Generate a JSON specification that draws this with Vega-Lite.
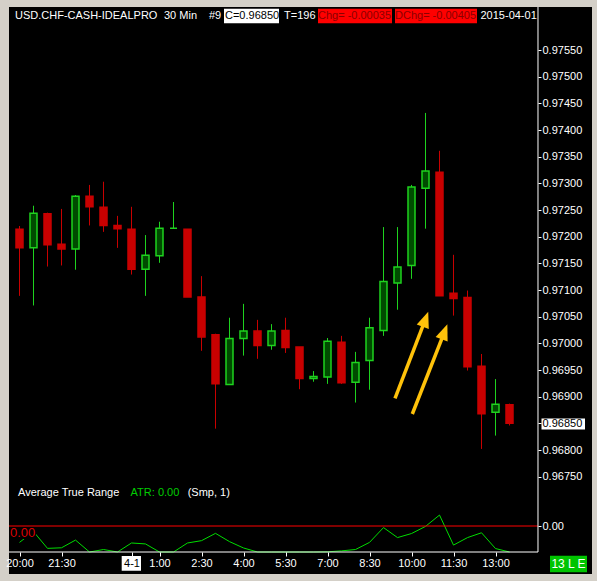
{
  "$schema": "https://vega.github.io/schema/vega-lite/v6.json",
  "width": 583,
  "height": 567,
  "autosize": {"type": "none"},
  "padding": {"left": 9, "top": 7, "right": 5, "bottom": 7},
  "background": "#d4d0c8",
  "config": {
    "view": {"fill": "#000000", "stroke": null},
    "font": "Liberation Sans",
    "text": {"font": "Liberation Sans", "fontSize": 11, "baseline": "middle", "align": "left"}
  },
  "datasets": {
    "bars": [
      {"t": "2015-03-31T20:00:00Z", "open": 0.97214, "high": 0.97220, "low": 0.97089, "close": 0.97179, "atr": 0.00132},
      {"t": "2015-03-31T20:30:00Z", "open": 0.97179, "high": 0.97258, "low": 0.97071, "close": 0.97244, "atr": 0.00188},
      {"t": "2015-03-31T21:00:00Z", "open": 0.97243, "high": 0.97245, "low": 0.97144, "close": 0.97185, "atr": 0.00101},
      {"t": "2015-03-31T21:30:00Z", "open": 0.97186, "high": 0.97252, "low": 0.97146, "close": 0.97177, "atr": 0.00104},
      {"t": "2015-03-31T22:00:00Z", "open": 0.97177, "high": 0.97278, "low": 0.97138, "close": 0.97276, "atr": 0.00144},
      {"t": "2015-03-31T22:30:00Z", "open": 0.97276, "high": 0.97297, "low": 0.97221, "close": 0.97256, "atr": 0.00076},
      {"t": "2015-03-31T23:00:00Z", "open": 0.97255, "high": 0.97303, "low": 0.97209, "close": 0.97221, "atr": 0.00095},
      {"t": "2015-03-31T23:30:00Z", "open": 0.97221, "high": 0.97239, "low": 0.97179, "close": 0.97215, "atr": 0.00059},
      {"t": "2015-04-01T00:00:00Z", "open": 0.97214, "high": 0.97256, "low": 0.97129, "close": 0.97139, "atr": 0.00129},
      {"t": "2015-04-01T00:30:00Z", "open": 0.97139, "high": 0.97203, "low": 0.97089, "close": 0.97165, "atr": 0.00124},
      {"t": "2015-04-01T01:00:00Z", "open": 0.97164, "high": 0.97228, "low": 0.97151, "close": 0.97216, "atr": 0.00076},
      {"t": "2015-04-01T01:30:00Z", "open": 0.97216, "high": 0.97265, "low": 0.97216, "close": 0.97216, "atr": 0.00049},
      {"t": "2015-04-01T02:00:00Z", "open": 0.97214, "high": 0.97214, "low": 0.97087, "close": 0.97087, "atr": 0.00129},
      {"t": "2015-04-01T02:30:00Z", "open": 0.97087, "high": 0.97126, "low": 0.96986, "close": 0.97012, "atr": 0.00141},
      {"t": "2015-04-01T03:00:00Z", "open": 0.97016, "high": 0.97018, "low": 0.96840, "close": 0.96924, "atr": 0.00179},
      {"t": "2015-04-01T03:30:00Z", "open": 0.96923, "high": 0.97048, "low": 0.96923, "close": 0.97009, "atr": 0.00136},
      {"t": "2015-04-01T04:00:00Z", "open": 0.97009, "high": 0.97074, "low": 0.96977, "close": 0.97023, "atr": 0.00103},
      {"t": "2015-04-01T04:30:00Z", "open": 0.97023, "high": 0.97044, "low": 0.96971, "close": 0.96996, "atr": 0.00073},
      {"t": "2015-04-01T05:00:00Z", "open": 0.96996, "high": 0.97036, "low": 0.96988, "close": 0.97023, "atr": 0.00048},
      {"t": "2015-04-01T05:30:00Z", "open": 0.97024, "high": 0.97048, "low": 0.96982, "close": 0.96992, "atr": 0.00066},
      {"t": "2015-04-01T06:00:00Z", "open": 0.96993, "high": 0.96993, "low": 0.96914, "close": 0.96934, "atr": 0.00078},
      {"t": "2015-04-01T06:30:00Z", "open": 0.96934, "high": 0.96948, "low": 0.96928, "close": 0.96938, "atr": 0.00020},
      {"t": "2015-04-01T07:00:00Z", "open": 0.96937, "high": 0.97010, "low": 0.96924, "close": 0.97004, "atr": 0.00083},
      {"t": "2015-04-01T07:30:00Z", "open": 0.97002, "high": 0.97014, "low": 0.96924, "close": 0.96926, "atr": 0.00088},
      {"t": "2015-04-01T08:00:00Z", "open": 0.96927, "high": 0.96984, "low": 0.96889, "close": 0.96964, "atr": 0.00095},
      {"t": "2015-04-01T08:30:00Z", "open": 0.96968, "high": 0.97048, "low": 0.96913, "close": 0.97029, "atr": 0.00132},
      {"t": "2015-04-01T09:00:00Z", "open": 0.97024, "high": 0.97218, "low": 0.97014, "close": 0.97116, "atr": 0.00209},
      {"t": "2015-04-01T09:30:00Z", "open": 0.97113, "high": 0.97218, "low": 0.97063, "close": 0.97143, "atr": 0.00157},
      {"t": "2015-04-01T10:00:00Z", "open": 0.97146, "high": 0.97297, "low": 0.97121, "close": 0.97293, "atr": 0.00178},
      {"t": "2015-04-01T10:30:00Z", "open": 0.97291, "high": 0.97432, "low": 0.97215, "close": 0.97323, "atr": 0.00215},
      {"t": "2015-04-01T11:00:00Z", "open": 0.97321, "high": 0.97361, "low": 0.97089, "close": 0.97089, "atr": 0.00274},
      {"t": "2015-04-01T11:30:00Z", "open": 0.97094, "high": 0.97166, "low": 0.97052, "close": 0.97084, "atr": 0.00118},
      {"t": "2015-04-01T12:00:00Z", "open": 0.97086, "high": 0.97099, "low": 0.96949, "close": 0.96956, "atr": 0.00157},
      {"t": "2015-04-01T12:30:00Z", "open": 0.96957, "high": 0.96980, "low": 0.96802, "close": 0.96868, "atr": 0.00182},
      {"t": "2015-04-01T13:00:00Z", "open": 0.96871, "high": 0.96933, "low": 0.96827, "close": 0.96886, "atr": 0.00100},
      {"t": "2015-04-01T13:30:00Z", "open": 0.96885, "high": 0.96887, "low": 0.96846, "close": 0.96850, "atr": 0.00041}
    ]
  },
  "resolve": {"scale": {"y": "independent"}},
  "layer": [
    {
      "data": {"name": "bars"},
      "mark": {"type": "rule", "strokeWidth": 1},
      "encoding": {
        "x": {
          "field": "t", "type": "temporal",
          "scale": {"type": "utc", "padding": 0, "domain": [{"year": 2015, "month": 3, "date": 31, "hours": 19, "minutes": 37, "seconds": 30, "utc": true}, {"year": 2015, "month": 4, "date": 1, "hours": 16, "minutes": 26, "seconds": 47, "utc": true}]},
          "axis": {
            "orient": "bottom", "offset": -22, "title": null, "domain": false, "grid": false,
            "values": [1427832000000, 1427837400000, 1427846400000, 1427850000000, 1427855400000, 1427860800000, 1427866200000, 1427871600000, 1427877000000, 1427882400000, 1427887800000, 1427893200000],
            "labelExpr": "utchours(datum.value) == 0 ? '4-1' : utcFormat(datum.value, '%-H:%M')",
            "labelColor": {"condition": {"test": "utchours(datum.value) == 0", "value": "#000000"}, "value": "#ffffff"},
            "labelFont": "Liberation Sans", "labelFontSize": 11,
            "tickColor": "#ffffff", "tickSize": 4, "labelPadding": 1,
            "labelOverlap": false, "labelFlush": false, "zindex": 2
          }
        },
        "y": {
          "field": "low", "type": "quantitative",
          "scale": {"domain": [0.965675, 0.97630625], "zero": false, "nice": false},
          "axis": {
            "orient": "right", "offset": -54, "title": null, "domain": false, "grid": false,
            "values": [0.9755, 0.975, 0.9745, 0.974, 0.9735, 0.973, 0.9725, 0.972, 0.9715, 0.971, 0.9705, 0.97, 0.9695, 0.969, 0.9685, 0.968, 0.9675, 0.966575],
            "labelExpr": "datum.value < 0.967 ? '0.00' : format(datum.value, '.5f')",
            "labelColor": {"condition": {"test": "abs(datum.value - 0.9685) < 0.000001", "value": "#000000"}, "value": "#ffffff"},
            "labelFont": "Liberation Sans", "labelFontSize": 11,
            "tickColor": "#ffffff", "tickSize": 3, "labelPadding": 1,
            "labelAlign": "left", "labelBaseline": "middle",
            "labelOverlap": false, "labelFlush": false, "zindex": 2
          }
        },
        "y2": {"field": "high"},
        "color": {"condition": {"test": "datum.close >= datum.open", "value": "#1ed21e"}, "value": "#c80000"}
      }
    },
    {
      "data": {"name": "bars"},
      "mark": {"type": "line", "color": "#00dd00", "strokeWidth": 1},
      "encoding": {
        "x": {"field": "t", "type": "temporal"},
        "y": {"field": "atr", "type": "quantitative", "scale": {"domain": [0.000821, 0.029128], "range": [545, 0], "clamp": true, "zero": false, "nice": false}, "axis": null}
      }
    },
    {
      "data": {"name": "bars"},
      "mark": {"type": "bar", "width": 7, "strokeWidth": 1.5},
      "encoding": {
        "x": {"field": "t", "type": "temporal"},
        "y": {"field": "open", "type": "quantitative", "scale": {"domain": [0.965675, 0.97630625], "zero": false, "nice": false}, "axis": null},
        "y2": {"field": "close"},
        "fill": {"condition": {"test": "datum.close >= datum.open", "value": "#004b00"}, "value": "#c80000"},
        "stroke": {"condition": {"test": "datum.close >= datum.open", "value": "#1ed21e"}, "value": "#c80000"}
      }
    },
    {
      "data": {"values": [{}]},
      "mark": {"type": "rule", "color": "#ff0000", "strokeWidth": 1},
      "encoding": {
        "x": {"datum": {"year": 2015, "month": 3, "date": 31, "hours": 19, "minutes": 37, "seconds": 30, "utc": true}, "type": "temporal"},
        "x2": {"datum": {"year": 2015, "month": 4, "date": 1, "hours": 14, "minutes": 31, "seconds": 4, "utc": true}},
        "y": {"datum": 0.966575, "type": "quantitative", "scale": {"domain": [0.965675, 0.97630625], "zero": false, "nice": false}, "axis": null}
      }
    },
    {
      "data": {"values": [{}]},
      "mark": {"type": "rule", "color": "#ffffff", "strokeWidth": 1},
      "encoding": {
        "x": {"datum": {"year": 2015, "month": 4, "date": 1, "hours": 14, "minutes": 31, "seconds": 4, "utc": true}, "type": "temporal"},
        "y": {"datum": 0.97630625, "type": "quantitative", "scale": {"domain": [0.965675, 0.97630625], "zero": false, "nice": false}, "axis": null},
        "y2": {"datum": 0.9660875}
      }
    },
    {
      "data": {"values": [{}]},
      "mark": {"type": "rule", "color": "#ffffff", "strokeWidth": 1},
      "encoding": {
        "x": {"datum": {"year": 2015, "month": 3, "date": 31, "hours": 19, "minutes": 37, "seconds": 30, "utc": true}, "type": "temporal"},
        "x2": {"datum": {"year": 2015, "month": 4, "date": 1, "hours": 14, "minutes": 31, "seconds": 4, "utc": true}},
        "y": {"datum": 0.9660875, "type": "quantitative", "scale": {"domain": [0.965675, 0.97630625], "zero": false, "nice": false}, "axis": null}
      }
    },
    {
      "data": {"values": [{}]},
      "mark": {"type": "rect", "color": "#ffffff"},
      "encoding": {
        "x": {"datum": {"year": 2015, "month": 4, "date": 1, "hours": 3, "minutes": 18, "seconds": 13, "utc": true}, "type": "temporal"},
        "x2": {"datum": {"year": 2015, "month": 4, "date": 1, "hours": 5, "minutes": 16, "seconds": 4, "utc": true}},
        "y": {"datum": 0.9762744, "type": "quantitative", "scale": {"domain": [0.965675, 0.97630625], "zero": false, "nice": false}, "axis": null},
        "y2": {"datum": 0.9760006}
      }
    },
    {
      "data": {"values": [{}]},
      "mark": {"type": "rect", "color": "#ff0000"},
      "encoding": {
        "x": {"datum": {"year": 2015, "month": 4, "date": 1, "hours": 6, "minutes": 39, "seconds": 39, "utc": true}, "type": "temporal"},
        "x2": {"datum": {"year": 2015, "month": 4, "date": 1, "hours": 9, "minutes": 18, "seconds": 13, "utc": true}},
        "y": {"datum": 0.9762744, "type": "quantitative", "scale": {"domain": [0.965675, 0.97630625], "zero": false, "nice": false}, "axis": null},
        "y2": {"datum": 0.9760006}
      }
    },
    {
      "data": {"values": [{}]},
      "mark": {"type": "rect", "color": "#ff0000"},
      "encoding": {
        "x": {"datum": {"year": 2015, "month": 4, "date": 1, "hours": 9, "minutes": 24, "seconds": 39, "utc": true}, "type": "temporal"},
        "x2": {"datum": {"year": 2015, "month": 4, "date": 1, "hours": 12, "minutes": 20, "seconds": 21, "utc": true}},
        "y": {"datum": 0.9762744, "type": "quantitative", "scale": {"domain": [0.965675, 0.97630625], "zero": false, "nice": false}, "axis": null},
        "y2": {"datum": 0.9760006}
      }
    },
    {
      "data": {"values": [{}]},
      "mark": {"type": "text", "color": "#ffffff", "text": "USD.CHF-CASH-IDEALPRO"},
      "encoding": {
        "x": {"datum": {"year": 2015, "month": 3, "date": 31, "hours": 19, "minutes": 50, "seconds": 21, "utc": true}, "type": "temporal"},
        "y": {"datum": 0.9761375, "type": "quantitative", "scale": {"domain": [0.965675, 0.97630625], "zero": false, "nice": false}, "axis": null}
      }
    },
    {
      "data": {"values": [{}]},
      "mark": {"type": "text", "color": "#ffffff", "text": "30 Min"},
      "encoding": {
        "x": {"datum": {"year": 2015, "month": 4, "date": 1, "hours": 1, "minutes": 9, "seconds": 39, "utc": true}, "type": "temporal"},
        "y": {"datum": 0.9761375, "type": "quantitative", "scale": {"domain": [0.965675, 0.97630625], "zero": false, "nice": false}, "axis": null}
      }
    },
    {
      "data": {"values": [{}]},
      "mark": {"type": "text", "color": "#ffffff", "text": "#9"},
      "encoding": {
        "x": {"datum": {"year": 2015, "month": 4, "date": 1, "hours": 2, "minutes": 46, "seconds": 4, "utc": true}, "type": "temporal"},
        "y": {"datum": 0.9761375, "type": "quantitative", "scale": {"domain": [0.965675, 0.97630625], "zero": false, "nice": false}, "axis": null}
      }
    },
    {
      "data": {"values": [{}]},
      "mark": {"type": "text", "color": "#000000", "text": "C=0.96850"},
      "encoding": {
        "x": {"datum": {"year": 2015, "month": 4, "date": 1, "hours": 3, "minutes": 20, "seconds": 21, "utc": true}, "type": "temporal"},
        "y": {"datum": 0.9761375, "type": "quantitative", "scale": {"domain": [0.965675, 0.97630625], "zero": false, "nice": false}, "axis": null}
      }
    },
    {
      "data": {"values": [{}]},
      "mark": {"type": "text", "color": "#ffffff", "text": "T=196"},
      "encoding": {
        "x": {"datum": {"year": 2015, "month": 4, "date": 1, "hours": 5, "minutes": 26, "seconds": 47, "utc": true}, "type": "temporal"},
        "y": {"datum": 0.9761375, "type": "quantitative", "scale": {"domain": [0.965675, 0.97630625], "zero": false, "nice": false}, "axis": null}
      }
    },
    {
      "data": {"values": [{}]},
      "mark": {"type": "text", "color": "#8b0000", "text": "Chg= -0.00035"},
      "encoding": {
        "x": {"datum": {"year": 2015, "month": 4, "date": 1, "hours": 6, "minutes": 39, "seconds": 39, "utc": true}, "type": "temporal"},
        "y": {"datum": 0.9761375, "type": "quantitative", "scale": {"domain": [0.965675, 0.97630625], "zero": false, "nice": false}, "axis": null}
      }
    },
    {
      "data": {"values": [{}]},
      "mark": {"type": "text", "color": "#8b0000", "text": "DChg= -0.00405"},
      "encoding": {
        "x": {"datum": {"year": 2015, "month": 4, "date": 1, "hours": 9, "minutes": 24, "seconds": 39, "utc": true}, "type": "temporal"},
        "y": {"datum": 0.9761375, "type": "quantitative", "scale": {"domain": [0.965675, 0.97630625], "zero": false, "nice": false}, "axis": null}
      }
    },
    {
      "data": {"values": [{}]},
      "mark": {"type": "text", "color": "#ffffff", "text": "2015-04-01"},
      "encoding": {
        "x": {"datum": {"year": 2015, "month": 4, "date": 1, "hours": 12, "minutes": 27, "seconds": 51, "utc": true}, "type": "temporal"},
        "y": {"datum": 0.9761375, "type": "quantitative", "scale": {"domain": [0.965675, 0.97630625], "zero": false, "nice": false}, "axis": null}
      }
    },
    {
      "data": {"values": [{}]},
      "mark": {"type": "text", "color": "#ffffff", "text": "Average True Range"},
      "encoding": {
        "x": {"datum": {"year": 2015, "month": 3, "date": 31, "hours": 19, "minutes": 56, "seconds": 47, "utc": true}, "type": "temporal"},
        "y": {"datum": 0.9671938, "type": "quantitative", "scale": {"domain": [0.965675, 0.97630625], "zero": false, "nice": false}, "axis": null}
      }
    },
    {
      "data": {"values": [{}]},
      "mark": {"type": "text", "color": "#00cc00", "text": "ATR: 0.00"},
      "encoding": {
        "x": {"datum": {"year": 2015, "month": 3, "date": 31, "hours": 23, "minutes": 58, "seconds": 4, "utc": true}, "type": "temporal"},
        "y": {"datum": 0.9671938, "type": "quantitative", "scale": {"domain": [0.965675, 0.97630625], "zero": false, "nice": false}, "axis": null}
      }
    },
    {
      "data": {"values": [{}]},
      "mark": {"type": "text", "color": "#ffffff", "text": "(Smp, 1)"},
      "encoding": {
        "x": {"datum": {"year": 2015, "month": 4, "date": 1, "hours": 2, "minutes": 0, "seconds": 26, "utc": true}, "type": "temporal"},
        "y": {"datum": 0.9671938, "type": "quantitative", "scale": {"domain": [0.965675, 0.97630625], "zero": false, "nice": false}, "axis": null}
      }
    },
    {
      "data": {"values": [{}]},
      "mark": {"type": "rect", "color": "#000000"},
      "encoding": {
        "x": {"datum": {"year": 2015, "month": 3, "date": 31, "hours": 19, "minutes": 37, "seconds": 30, "utc": true}, "type": "temporal"},
        "x2": {"datum": {"year": 2015, "month": 3, "date": 31, "hours": 20, "minutes": 35, "seconds": 21, "utc": true}},
        "y": {"datum": 0.9665375, "type": "quantitative", "scale": {"domain": [0.965675, 0.97630625], "zero": false, "nice": false}, "axis": null},
        "y2": {"datum": 0.9663313}
      }
    },
    {
      "data": {"values": [{}]},
      "mark": {"type": "text", "color": "#dd0000", "text": "0.00", "fontSize": 13},
      "encoding": {
        "x": {"datum": {"year": 2015, "month": 3, "date": 31, "hours": 19, "minutes": 39, "seconds": 39, "utc": true}, "type": "temporal"},
        "y": {"datum": 0.9664438, "type": "quantitative", "scale": {"domain": [0.965675, 0.97630625], "zero": false, "nice": false}, "axis": null}
      }
    },
    {
      "data": {"values": [{}]},
      "mark": {"type": "rule", "color": "#ffc20a", "strokeWidth": 3.5},
      "encoding": {
        "x": {"datum": {"year": 2015, "month": 4, "date": 1, "hours": 9, "minutes": 24, "seconds": 39, "utc": true}, "type": "temporal"},
        "x2": {"datum": {"year": 2015, "month": 4, "date": 1, "hours": 10, "minutes": 30, "seconds": 0, "utc": true}},
        "y": {"datum": 0.9689688, "type": "quantitative", "scale": {"domain": [0.965675, 0.97630625], "zero": false, "nice": false}, "axis": null},
        "y2": {"datum": 0.9704525}
      }
    },
    {
      "data": {"values": [{}]},
      "mark": {"type": "rule", "color": "#ffc20a", "strokeWidth": 3.5},
      "encoding": {
        "x": {"datum": {"year": 2015, "month": 4, "date": 1, "hours": 10, "minutes": 1, "seconds": 43, "utc": true}, "type": "temporal"},
        "x2": {"datum": {"year": 2015, "month": 4, "date": 1, "hours": 11, "minutes": 10, "seconds": 43, "utc": true}},
        "y": {"datum": 0.968675, "type": "quantitative", "scale": {"domain": [0.965675, 0.97630625], "zero": false, "nice": false}, "axis": null},
        "y2": {"datum": 0.9702163}
      }
    },
    {
      "data": {"values": [{}]},
      "mark": {"type": "point", "filled": true, "opacity": 1, "color": "#ffc20a", "shape": "M0,-1L0.8,1L-0.8,1Z", "size": 256, "angle": 20},
      "encoding": {
        "x": {"datum": {"year": 2015, "month": 4, "date": 1, "hours": 10, "minutes": 30, "seconds": 0, "utc": true}, "type": "temporal"},
        "y": {"datum": 0.9704525, "type": "quantitative", "scale": {"domain": [0.965675, 0.97630625], "zero": false, "nice": false}, "axis": null}
      }
    },
    {
      "data": {"values": [{}]},
      "mark": {"type": "point", "filled": true, "opacity": 1, "color": "#ffc20a", "shape": "M0,-1L0.8,1L-0.8,1Z", "size": 256, "angle": 21},
      "encoding": {
        "x": {"datum": {"year": 2015, "month": 4, "date": 1, "hours": 11, "minutes": 10, "seconds": 43, "utc": true}, "type": "temporal"},
        "y": {"datum": 0.9702163, "type": "quantitative", "scale": {"domain": [0.965675, 0.97630625], "zero": false, "nice": false}, "axis": null}
      }
    },
    {
      "data": {"values": [{}]},
      "mark": {"type": "rect", "color": "#ffffff"},
      "encoding": {
        "x": {"datum": {"year": 2015, "month": 4, "date": 1, "hours": 14, "minutes": 38, "seconds": 34, "utc": true}, "type": "temporal"},
        "x2": {"datum": {"year": 2015, "month": 4, "date": 1, "hours": 16, "minutes": 11, "seconds": 47, "utc": true}},
        "y": {"datum": 0.96859, "type": "quantitative", "scale": {"domain": [0.965675, 0.97630625], "zero": false, "nice": false}, "axis": null},
        "y2": {"datum": 0.968385}
      }
    },
    {
      "data": {"values": [{}]},
      "mark": {"type": "rect", "color": "#ffffff"},
      "encoding": {
        "x": {"datum": {"year": 2015, "month": 3, "date": 31, "hours": 23, "minutes": 39, "seconds": 0, "utc": true}, "type": "temporal"},
        "x2": {"datum": {"year": 2015, "month": 4, "date": 1, "hours": 0, "minutes": 20, "seconds": 21, "utc": true}},
        "y": {"datum": 0.9660125, "type": "quantitative", "scale": {"domain": [0.965675, 0.97630625], "zero": false, "nice": false}, "axis": null},
        "y2": {"datum": 0.9657369}
      }
    },
    {
      "data": {"values": [{}]},
      "mark": {"type": "rect", "color": "#00c400"},
      "encoding": {
        "x": {"datum": {"year": 2015, "month": 4, "date": 1, "hours": 14, "minutes": 56, "seconds": 47, "utc": true}, "type": "temporal"},
        "x2": {"datum": {"year": 2015, "month": 4, "date": 1, "hours": 16, "minutes": 16, "seconds": 4, "utc": true}},
        "y": {"datum": 0.9660181, "type": "quantitative", "scale": {"domain": [0.965675, 0.97630625], "zero": false, "nice": false}, "axis": null},
        "y2": {"datum": 0.9657069}
      }
    },
    {
      "data": {"values": [{}]},
      "mark": {"type": "text", "color": "#ffffff", "text": "13 L E", "fontSize": 12, "align": "center"},
      "encoding": {
        "x": {"datum": {"year": 2015, "month": 4, "date": 1, "hours": 15, "minutes": 36, "seconds": 26, "utc": true}, "type": "temporal"},
        "y": {"datum": 0.9658625, "type": "quantitative", "scale": {"domain": [0.965675, 0.97630625], "zero": false, "nice": false}, "axis": null}
      }
    }
  ]
}
